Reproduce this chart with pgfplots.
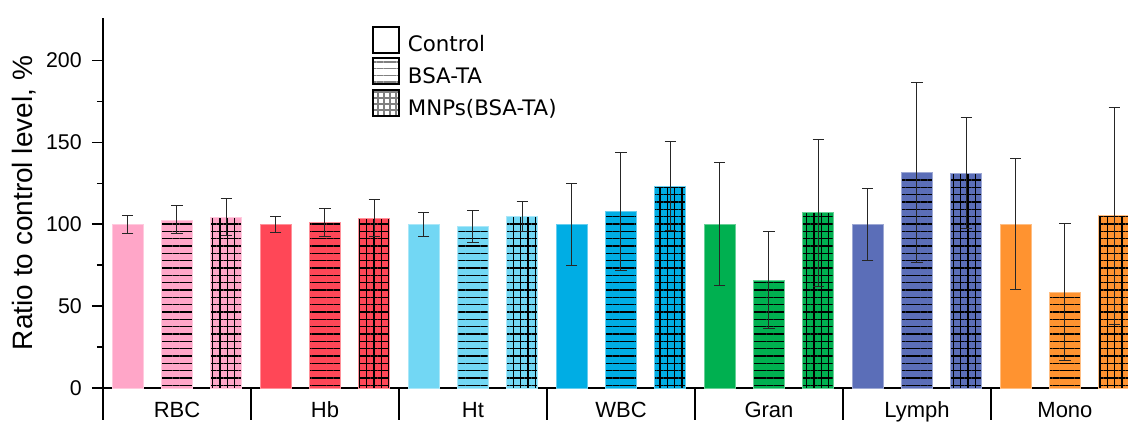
\documentclass[border=0pt]{standalone}
\usepackage{fontspec}
\setmainfont{Liberation Sans}
\newfontfamily\dejavu{DejaVu Sans}
\usepackage{pgfplots}
\pgfplotsset{compat=1.18}
\usetikzlibrary{patterns.meta}

\definecolor{cRBC}{HTML}{FFA6C8}
\definecolor{cHb}{HTML}{FF4757}
\definecolor{cHt}{HTML}{72D7F4}
\definecolor{cWBC}{HTML}{00ADE4}
\definecolor{cGran}{HTML}{00B050}
\definecolor{cLymph}{HTML}{5B6EB8}
\definecolor{cMono}{HTML}{FF9330}

\pgfplotsset{
  ctl/.style={ybar, bar width=0.21, bar shift=0pt, fill=#1, draw=#1!60!white, line width=0.5pt, forget plot,
    error bars/y dir=both, error bars/y explicit,
    error bars/error bar style={draw=black!85, line width=0.75pt},
    error bars/error mark options={draw=black!85, rotate=90, mark size=4.2pt, line width=0.75pt}},
  bsa/.style={ctl=#1, postaction={pattern={Lines[angle=0,distance=5.5pt,line width=0.8pt]}, pattern color=black}},
  mnp/.style={ctl=#1, postaction={pattern={Hatch[angle=0,distance=5.5pt,line width=0.8pt]}, pattern color=black}},
}

\begin{document}
\begin{tikzpicture}
\begin{axis}[
  at={(0,0)}, anchor=south west,
  scale only axis, width=768.75pt, height=277.5pt,
  xmin=-0.5, xmax=6.426, ymin=0, ymax=226,
  enlargelimits=false, clip=false,
  axis x line*=bottom, axis y line*=left,
  axis line style={-, line width=1.5pt},
  ytick={0,50,100,150,200}, minor ytick={25,75,125,175},
  yticklabels={0,50,100,150,200},
  tick align=outside, ytick pos=left,
  major tick length=8.25pt, minor tick length=4.5pt,
  tick style={line width=1.2pt, black},
  xtick={0,1,2,3,4,5,6},
  xticklabels={RBC,Hb,Ht,WBC,Gran,Lymph,Mono},
  xtick style={draw=none},
  xticklabel style={anchor=base, yshift=-13.5pt, font=\fontsize{16.5pt}{20pt}\selectfont},
  yticklabel style={anchor=east, inner sep=0pt, xshift=-7.5pt, font=\fontsize{16pt}{19pt}\selectfont},
  ylabel={Ratio to control level, \%},
  ylabel style={at={(axis description cs:-0.0683,0.5)}, anchor=base, font=\fontsize{21pt}{25pt}\selectfont},
  legend cell align=left,
  legend style={at={(axis cs:1.3176,221.2)}, anchor=north west, draw=none, fill=none,
    inner sep=0pt, outer sep=0pt, row sep=3pt,
    font=\dejavu\fontsize{16pt}{19pt}\selectfont,
    nodes={inner sep=0pt},
    /tikz/every odd column/.append style={column sep=6pt}},
]
% RBC
\addplot[ctl=cRBC] coordinates {(-0.333,100) +- (0,5.5)};
\addplot[bsa=cRBC] coordinates {(0,102.7) +- (0,8.5)};
\addplot[mnp=cRBC] coordinates {(0.333,104.4) +- (0,11.5)};
% Hb
\addplot[ctl=cHb] coordinates {(0.667,100) +- (0,5)};
\addplot[bsa=cHb] coordinates {(1,101.1) +- (0,8.8)};
\addplot[mnp=cHb] coordinates {(1.333,103.8) +- (0,11.3)};
% Ht
\addplot[ctl=cHt] coordinates {(1.667,100) +- (0,7.4)};
\addplot[bsa=cHt] coordinates {(2,98.5) +- (0,9.8)};
\addplot[mnp=cHt] coordinates {(2.333,104.6) +- (0,9.3)};
% WBC
\addplot[ctl=cWBC] coordinates {(2.667,100) +- (0,25)};
\addplot[bsa=cWBC] coordinates {(3,107.8) +- (0,36.2)};
\addplot[mnp=cWBC] coordinates {(3.333,123.2) +- (0,27.2)};
% Gran
\addplot[ctl=cGran] coordinates {(3.667,100) +- (0,37.5)};
\addplot[bsa=cGran] coordinates {(4,66) +- (0,29.5)};
\addplot[mnp=cGran] coordinates {(4.333,107) +- (0,45)};
% Lymph
\addplot[ctl=cLymph] coordinates {(4.667,100) +- (0,22)};
\addplot[bsa=cLymph] coordinates {(5,131.5) +- (0,54.9)};
\addplot[mnp=cLymph] coordinates {(5.333,131.1) +- (0,33.9)};
% Mono
\addplot[ctl=cMono] coordinates {(5.667,100) +- (0,40)};
\addplot[bsa=cMono] coordinates {(6,58.7) +- (0,41.6)};
\addplot[mnp=cMono] coordinates {(6.333,105.2) +- (0,66.2)};

\addlegendimage{legend image code/.code={\draw[line width=1.5pt, fill=white] (0pt,-6pt) rectangle (19.5pt,13.5pt);}}
\addlegendentry{Control}
\addlegendimage{legend image code/.code={\draw[line width=1.5pt, pattern={Lines[angle=0,distance=5pt,line width=0.8pt]}, pattern color=gray] (0pt,-6pt) rectangle (19.5pt,13.5pt);}}
\addlegendentry{BSA-TA}
\addlegendimage{legend image code/.code={\draw[line width=1.5pt, pattern={Hatch[angle=0,distance=4.5pt,line width=0.8pt]}, pattern color=gray] (0pt,-6pt) rectangle (19.5pt,13.5pt);}}
\addlegendentry{MNPs(BSA-TA)}

\draw[line width=1.5pt] (axis cs:-0.5,0) -- ++(0pt,-24pt);
\draw[line width=1.5pt] (axis cs:0.5,0) -- ++(0pt,-24pt);
\draw[line width=1.5pt] (axis cs:1.5,0) -- ++(0pt,-24pt);
\draw[line width=1.5pt] (axis cs:2.5,0) -- ++(0pt,-24pt);
\draw[line width=1.5pt] (axis cs:3.5,0) -- ++(0pt,-24pt);
\draw[line width=1.5pt] (axis cs:4.5,0) -- ++(0pt,-24pt);
\draw[line width=1.5pt] (axis cs:5.5,0) -- ++(0pt,-24pt);
\end{axis}
\pgfresetboundingbox
\useasboundingbox (-77.25pt,-25.5pt) rectangle (768.75pt,291pt);
\end{tikzpicture}
\end{document}
